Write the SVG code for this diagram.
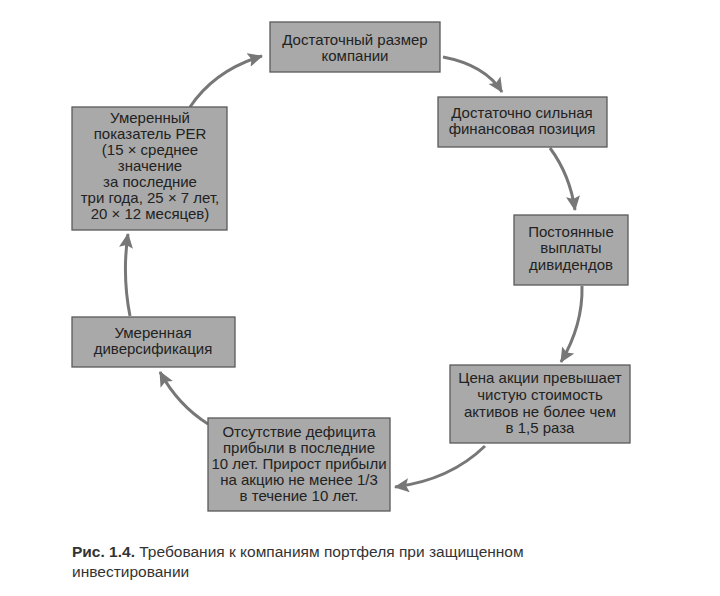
<svg xmlns="http://www.w3.org/2000/svg" width="720" height="596" viewBox="0 0 720 596">
<style>
.box{fill:#a9a9a9;stroke:#5a5a5a;stroke-width:1.3}
.t{font-family:"Liberation Sans",Arial,sans-serif;font-size:15px;fill:#222;text-anchor:middle}
.cap{font-family:"Liberation Sans",Arial,sans-serif;font-size:15.5px;fill:#333}
.arr{fill:none;stroke:#777;stroke-width:3;marker-end:url(#ah)}
</style>
<defs>
<marker id="ah" markerUnits="userSpaceOnUse" markerWidth="18" markerHeight="16" refX="14" refY="7" orient="auto">
<path d="M0,0 L15,7 L0,14 L3,7 Z" fill="#777"/>
</marker>
</defs>
<rect width="720" height="596" fill="#fff"/>
<g id="connectors">
<path class="arr" d="M190,107 Q215,70 262,56"/>
<path class="arr" d="M443,57 Q485,65 502,92"/>
<path class="arr" d="M550,148 Q570,175 575,210"/>
<path class="arr" d="M582,286 Q583,325 561,362"/>
<path class="arr" d="M485,446 Q450,480 395,487"/>
<path class="arr" d="M208,424 Q178,405 160,372"/>
<path class="arr" d="M130,316 Q122,275 128,234"/>
</g>
<g id="n1"><rect class="box" x="270" y="22" width="170" height="50"/>
<text class="t" x="355" y="45">Достаточный размер</text><text class="t" x="355" y="61">компании</text></g>
<g id="n2"><rect class="box" x="438" y="97" width="169" height="50"/>
<text class="t" x="522" y="118">Достаточно сильная</text><text class="t" x="522" y="134">финансовая позиция</text></g>
<g id="n3"><rect class="box" x="514" y="215" width="114" height="70"/>
<text class="t" x="571" y="237">Постоянные</text><text class="t" x="571" y="253">выплаты</text><text class="t" x="571" y="270">дивидендов</text></g>
<g id="n4"><rect class="box" x="450" y="365" width="180" height="78"/>
<text class="t" x="540" y="383">Цена акции превышает</text><text class="t" x="540" y="400">чистую стоимость</text><text class="t" x="540" y="417">активов не более чем</text><text class="t" x="540" y="433">в 1,5 раза</text></g>
<g id="n5"><rect class="box" x="208" y="418" width="182" height="93"/>
<text class="t" x="299" y="437">Отсутствие дефицита</text><text class="t" x="299" y="453">прибыли в последние</text><text class="t" x="299" y="469">10 лет. Прирост прибыли</text><text class="t" x="299" y="485">на акцию не менее 1/3</text><text class="t" x="299" y="501">в течение 10 лет.</text></g>
<g id="n6"><rect class="box" x="72" y="317" width="163" height="50"/>
<text class="t" x="153" y="338">Умеренная</text><text class="t" x="153" y="354">диверсификация</text></g>
<g id="n7"><rect class="box" x="72" y="107" width="155" height="123"/>
<text class="t" x="150" y="123">Умеренный</text><text class="t" x="150" y="139">показатель PER</text><text class="t" x="150" y="155">(15 × среднее</text><text class="t" x="150" y="171">значение</text><text class="t" x="150" y="187">за последние</text><text class="t" x="150" y="203">три года, 25 × 7 лет,</text><text class="t" x="150" y="219">20 × 12 месяцев)</text></g>
<g id="caption">
<text class="cap" x="72" y="557"><tspan font-weight="bold">Рис. 1.4.</tspan> Требования к компаниям портфеля при защищенном</text>
<text class="cap" x="72" y="577">инвестировании</text>
</g>
</svg>
